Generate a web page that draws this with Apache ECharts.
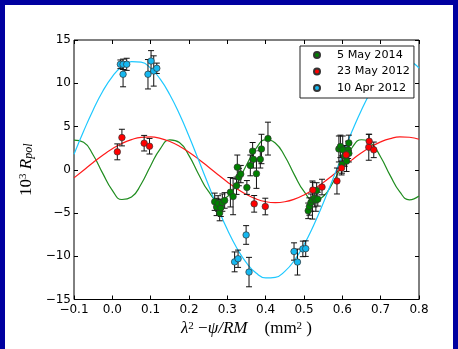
<!DOCTYPE html>
<html>
<head>
<meta charset="utf-8">
<script src="https://cdn.jsdelivr.net/npm/echarts@6/dist/echarts.min.js"></script>
<style>
  html, body { margin:0; padding:0; }
  body { width:458px; height:349px; background:#0000a0; position:relative; overflow:hidden; }
  #paper { position:absolute; left:5px; top:5px; right:5px; bottom:0; background:#fff; }
  #chart { position:absolute; left:0; top:0; width:458px; height:349px; }
</style>
</head>
<body>
<div id="paper"></div>
<div id="chart"></div>
<script>
// ---- data ----
const xTicks = [-0.1, 0.0, 0.1, 0.2, 0.3, 0.4, 0.5, 0.6, 0.7, 0.8];
const yTicks = [-15, -10, -5, 0, 5, 10, 15];
const seriesNames = ['5 May 2014', '23 May 2012', '10 Apr 2012'];

// fitted model curves, sampled along x
const curveX = [-0.1, -0.075, -0.05, -0.025, 0.0, 0.025, 0.05, 0.075, 0.1, 0.125, 0.15, 0.175, 0.2, 0.225, 0.25, 0.275, 0.3, 0.325, 0.35, 0.375, 0.4, 0.425, 0.45, 0.475, 0.5, 0.525, 0.55, 0.575, 0.6, 0.625, 0.65, 0.675, 0.7, 0.725, 0.75, 0.775, 0.8];
const greenCurve = [3.43, 3.18, 1.71, -0.42, -2.39, -3.44, -3.16, -1.67, 0.47, 2.42, 3.45, 3.14, 1.63, -0.51, -2.45, -3.45, -3.12, -1.59, 0.55, 2.48, 3.46, 3.10, 1.56, -0.59, -2.51, -3.47, -3.09, -1.52, 0.63, 2.54, 3.47, 3.06, 1.48, -0.68, -2.57, -3.48, -3.04];
const redCurve = [-0.94, -0.05, 0.84, 1.68, 2.43, 3.04, 3.49, 3.75, 3.79, 3.63, 3.26, 2.72, 2.02, 1.22, 0.34, -0.55, -1.41, -2.20, -2.86, -3.37, -3.69, -3.80, -3.70, -3.40, -2.91, -2.26, -1.49, -0.63, 0.26, 1.14, 1.96, 2.66, 3.22, 3.60, 3.79, 3.76, 3.52];
const blueCurve = [1.8, 4.45, 6.92, 9.07, 10.77, 11.94, 12.50, 12.44, 11.75, 10.47, 8.67, 6.44, 3.88, 1.12, -1.68, -4.41, -6.92, -9.07, -10.77, -11.94, -12.50, -12.44, -11.75, -10.47, -8.67, -6.44, -3.88, -1.12, 1.68, 4.41, 6.92, 9.07, 10.77, 11.94, 12.50, 12.44, 11.75];

// measured points: [x, value, error]
const greenPoints = [
  [0.267, -3.7, 1.0], [0.272, -4.3, 1.0], [0.276, -3.9, 0.9], [0.280, -5.0, 0.9],
  [0.283, -4.4, 1.0], [0.287, -3.8, 1.0], [0.293, -3.55, 0.9], [0.308, -2.6, 1.7],
  [0.315, -3.1, 2.1], [0.324, -1.85, 1.0], [0.326, 0.3, 1.4], [0.330, -0.85, 1.0],
  [0.335, -0.5, 1.0], [0.351, -2.05, 0.8], [0.360, 0.5, 1.2], [0.366, 2.15, 1.0],
  [0.368, 1.2, 1.0], [0.376, -0.45, 1.7], [0.386, 1.2, 1.0], [0.389, 2.4, 1.7],
  [0.406, 3.6, 1.9],
  [0.511, -4.75, 0.9], [0.514, -4.25, 1.0], [0.518, -3.8, 1.0], [0.522, -3.5, 2.2],
  [0.527, -3.3, 1.0], [0.531, -3.5, 1.3], [0.533, -2.4, 0.9], [0.536, -3.4, 0.8],
  [0.591, 2.4, 1.5], [0.595, 2.7, 1.3], [0.599, 0.6, 1.0], [0.601, 2.3, 1.6],
  [0.606, 1.6, 1.2], [0.611, 1.0, 1.2], [0.615, 2.3, 1.0], [0.617, 3.1, 0.9],
  [0.617, 1.9, 1.0]
];
const redPoints = [
  [0.013, 2.07, 0.92], [0.025, 3.72, 0.96], [0.083, 3.07, 0.9], [0.097, 2.72, 0.9],
  [0.370, -3.94, 0.96], [0.399, -4.25, 0.96],
  [0.523, -2.35, 0.9], [0.547, -2.0, 0.9], [0.586, -1.3, 1.5], [0.598, 0.2, 0.8],
  [0.610, 1.72, 0.9], [0.669, 2.6, 1.5], [0.670, 3.3, 0.8], [0.682, 2.3, 0.9]
];
const bluePoints = [
  [0.021, 12.19, 0.5], [0.028, 12.19, 0.6], [0.0375, 12.19, 0.7], [0.028, 11.04, 1.45],
  [0.093, 11.04, 1.7], [0.101, 12.57, 1.2], [0.108, 11.42, 1.75], [0.116, 11.73, 0.6],
  [0.319, -10.65, 1.15], [0.328, -10.29, 1.0], [0.349, -7.54, 1.08], [0.3566, -11.83, 1.7],
  [0.474, -9.45, 1.0], [0.483, -10.67, 1.5], [0.497, -9.15, 0.9], [0.5045, -9.12, 0.9]
];

const colors = ['#008000', '#ff0000', '#16b8f0'];
const lineColors = ['#1e8c1e', '#ff1a1a', '#1ec8ff'];

const chart = echarts.init(document.getElementById('chart'), null, {renderer: 'canvas'});

function zip(xs, ys) { return xs.map((x, i) => [x, ys[i]]); }
const minus = s => String(s).replace('-', '\u2212');

function errRender(params, api) {
  const x = api.value(0), y = api.value(1), e = api.value(2);
  const t = api.coord([x, y + e]);
  const b = api.coord([x, y - e]);
  const hw = 3;
  const st = {stroke: '#111', lineWidth: 1};
  return {
    type: 'group',
    children: [
      {type: 'line', shape: {x1: t[0], y1: t[1], x2: b[0], y2: b[1]}, style: st},
      {type: 'line', shape: {x1: t[0] - hw, y1: t[1], x2: t[0] + hw, y2: t[1]}, style: st},
      {type: 'line', shape: {x1: b[0] - hw, y1: b[1], x2: b[0] + hw, y2: b[1]}, style: st}
    ]
  };
}

const pointSets = [greenPoints, redPoints, bluePoints];
const curves = [greenCurve, redCurve, blueCurve];

const series = [];
curves.forEach((c, i) => {
  series.push({
    type: 'line', data: zip(curveX, c), smooth: 0.5, showSymbol: false,
    lineStyle: {color: lineColors[i], width: 1.2}, z: 2, silent: true, clip: true
  });
});
pointSets.forEach((p, i) => {
  series.push({
    type: 'custom', renderItem: errRender, data: p, encode: {x: 0, y: 1},
    z: 3, silent: true, clip: true
  });
});
pointSets.forEach((p, i) => {
  series.push({
    type: 'scatter', name: seriesNames[i], data: p.map(d => [d[0], d[1]]),
    symbol: 'circle', symbolSize: 6.5,
    itemStyle: {color: colors[i], borderColor: '#333', borderWidth: 0.7, opacity: 1},
    z: 4, silent: true
  });
});

const tickFont = {fontFamily: 'DejaVu Sans', fontSize: 12, color: '#000'};
const tickStyle = {show: true, inside: true, length: 4, lineStyle: {color: '#000'}};

chart.setOption({
  animation: false,
  backgroundColor: 'transparent',
  grid: {left: 74, top: 40, width: 345, height: 259.5, show: true, borderColor: '#000', borderWidth: 1, backgroundColor: 'transparent'},
  legend: {
    data: seriesNames, orient: 'vertical', left: 300, top: 46,
    padding: [2, 4, 3, 13], itemGap: 2.5, itemWidth: 6, itemHeight: 6,
    icon: 'circle',
    backgroundColor: '#fff', borderColor: '#222', borderWidth: 1, borderRadius: 0,
    textStyle: {fontFamily: 'DejaVu Sans', fontSize: 11.2, color: '#000', lineHeight: 14, padding: [0, 0, 0, 12]},
    selectedMode: false
  },
  xAxis: [{
    type: 'value', min: -0.1, max: 0.8, interval: 0.1, position: 'bottom',
    axisLine: {show: false, onZero: false}, splitLine: {show: false},
    axisTick: tickStyle,
    axisLabel: Object.assign({margin: 4, formatter: v => minus((Math.round(v * 10) / 10).toFixed(1))}, tickFont),
    name: '{i|λ}{sup|2} {r|−}{i|ψ/RM}    {r|(mm}{sup|2}{r| )}',
    nameLocation: 'middle', nameGap: 19,
    nameTextStyle: {
      fontFamily: 'Liberation Serif', fontSize: 17, color: '#000',
      rich: {
        i: {fontFamily: 'Liberation Serif', fontStyle: 'italic', fontSize: 17, color: '#000'},
        r: {fontFamily: 'Liberation Serif', fontSize: 17, color: '#000'},
        sup: {fontFamily: 'Liberation Serif', fontSize: 11, verticalAlign: 'top', color: '#000'}
      }
    }
  }, {
    type: 'value', min: -0.1, max: 0.8, interval: 0.1, position: 'top',
    axisLine: {show: false, onZero: false}, splitLine: {show: false}, axisLabel: {show: false},
    axisTick: tickStyle
  }],
  yAxis: [{
    type: 'value', min: -15, max: 15, interval: 5, position: 'left',
    axisLine: {show: false, onZero: false}, splitLine: {show: false},
    axisTick: tickStyle,
    axisLabel: Object.assign({margin: 3, formatter: v => minus(v)}, tickFont),
    name: '{r|10}{sup|3} {i|R}{sub|pol}',
    nameLocation: 'middle', nameGap: 36, nameRotate: 90,
    nameTextStyle: {
      fontFamily: 'Liberation Serif', fontSize: 17, color: '#000',
      rich: {
        i: {fontFamily: 'Liberation Serif', fontStyle: 'italic', fontSize: 17, color: '#000'},
        r: {fontFamily: 'Liberation Serif', fontSize: 17, color: '#000'},
        sup: {fontFamily: 'Liberation Serif', fontSize: 11, verticalAlign: 'top', color: '#000'},
        sub: {fontFamily: 'Liberation Serif', fontStyle: 'italic', fontSize: 12, verticalAlign: 'bottom', color: '#000'}
      }
    }
  }, {
    type: 'value', min: -15, max: 15, interval: 5, position: 'right',
    axisLine: {show: false, onZero: false}, splitLine: {show: false}, axisLabel: {show: false},
    axisTick: tickStyle
  }],
  series: series
});
</script>
</body>
</html>
